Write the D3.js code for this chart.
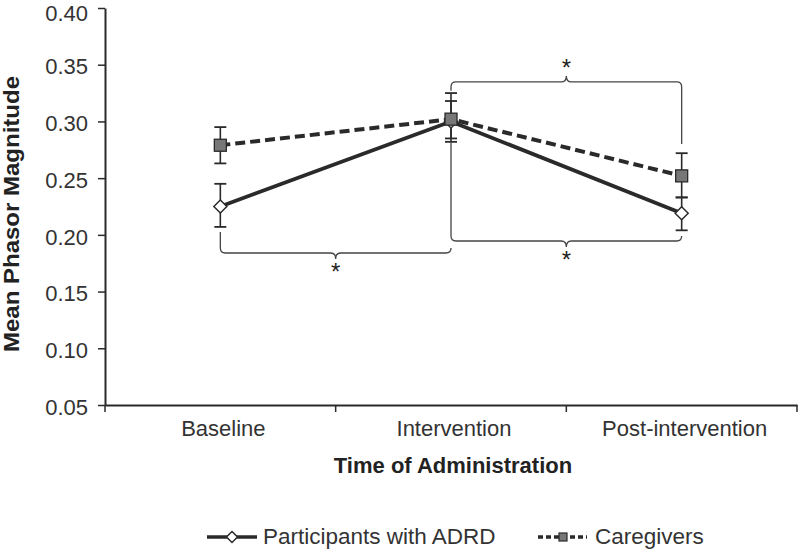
<!DOCTYPE html>
<html><head><meta charset="utf-8">
<script src="https://cdn.jsdelivr.net/npm/d3@7"></script>
<style>body{margin:0;background:#fff}svg{display:block}</style>
</head><body>
<svg id="c" width="800" height="551"></svg>
<script>
const categories = ["Baseline","Intervention","Post-intervention"];
const adrdMean = [0.225, 0.300, 0.219];
const adrdLow  = [0.207, 0.282, 0.204];
const adrdHigh = [0.245, 0.318, 0.233];
const cgMean = [0.279, 0.302, 0.252];
const cgLow  = [0.263, 0.285, 0.233];
const cgHigh = [0.295, 0.325, 0.272];
const yTicks = [0.05,0.10,0.15,0.20,0.25,0.30,0.35,0.40];
// significance braces: [from index, to index, level, side]
const braces = [
  {a:0,b:1,level:0.184,start:[0.2025,0.188],dir:1},
  {a:1,b:2,level:0.3348,start:[0.327,0.280],dir:-1},
  {a:1,b:2,level:0.1946,start:[0.2815,0.199],dir:1}
];

const svg = d3.select("#c");
const ink = "#2a2a2a";
const x = d3.scaleBand().domain(categories).range([105,797]).paddingInner(0).paddingOuter(0);
const y = d3.scaleLinear().domain([0.05,0.40]).range([405,8]);
const cx = c => x(c) + x.bandwidth()/2;
const font = "'Liberation Sans', Arial, sans-serif";

// y axis
const ya = svg.append("g").attr("transform","translate(105,0)")
  .call(d3.axisLeft(y).tickValues(yTicks).tickFormat(d3.format(".2f")).tickSize(7).tickSizeOuter(0));
ya.select(".domain").attr("stroke",ink).attr("stroke-width",2);
ya.selectAll(".tick line").attr("stroke",ink).attr("stroke-width",1.5);
ya.selectAll(".tick text").attr("font-family",font).attr("font-size",22).attr("fill","#333").attr("x",-17)
  .attr("dy",d=>d===0.40?"0.56em":"0.42em");

// x axis
const xa = svg.append("g").attr("transform","translate(0,405)")
  .call(d3.axisBottom(x).tickSize(0).tickSizeOuter(0));
xa.select(".domain").attr("stroke",ink).attr("stroke-width",2);
xa.selectAll(".tick text").attr("font-family",font).attr("font-size",22).attr("fill","#333").attr("dy","0").attr("y",31).attr("dx",3);
const edges = categories.map(c=>x(c)).concat([x(categories[2])+x.bandwidth()]);
svg.append("g").selectAll("line").data(edges).join("line")
  .attr("x1",d=>d).attr("x2",d=>d).attr("y1",405).attr("y2",412).attr("stroke",ink).attr("stroke-width",1.5);

// axis titles
svg.append("text").attr("x",453).attr("y",473).attr("text-anchor","middle")
  .attr("font-family",font).attr("font-weight","bold").attr("font-size",22).attr("fill","#222").text("Time of Administration");
svg.append("text").attr("transform","translate(19,214) rotate(-90)").attr("text-anchor","middle")
  .attr("font-family",font).attr("font-weight","bold").attr("font-size",22).attr("textLength",276).attr("lengthAdjust","spacingAndGlyphs")
  .attr("fill","#222").text("Mean Phasor Magnitude");

// braces
function bracePath(x1,x2,ys1,ys2,yl,dir){
  const r=5, xm=(x1+x2)/2, s=-dir;
  return `M${x1},${ys1} L${x1},${yl+s*r} Q${x1},${yl} ${x1+r},${yl} L${xm-r},${yl} Q${xm},${yl} ${xm},${yl-s*(r+1)} Q${xm},${yl} ${xm+r},${yl} L${x2-r},${yl} Q${x2},${yl} ${x2},${yl+s*r} L${x2},${ys2}`;
}
braces.forEach(b=>{
  const x1=cx(categories[b.a]), x2=cx(categories[b.b]);
  svg.append("path").attr("d",bracePath(x1,x2,y(b.start[0]),y(b.start[1]),y(b.level),b.dir))
    .attr("fill","none").attr("stroke","#444").attr("stroke-width",1.3);
  svg.append("text").attr("x",(x1+x2)/2).attr("y",y(b.level)+(b.dir>0?27:-6)).attr("text-anchor","middle")
    .attr("font-family",font).attr("font-size",24).attr("fill","#222").text("*");
});

// error bars
function errBars(low,high,g){
  categories.forEach((c,i)=>{
    const xx=cx(c);
    g.append("line").attr("x1",xx).attr("x2",xx).attr("y1",y(low[i])).attr("y2",y(high[i])).attr("stroke",ink).attr("stroke-width",1.6);
    [low[i],high[i]].forEach(v=>g.append("line").attr("x1",xx-6).attr("x2",xx+6).attr("y1",y(v)).attr("y2",y(v)).attr("stroke",ink).attr("stroke-width",1.8));
  });
}
const gE = svg.append("g");
errBars(cgLow,cgHigh,gE);
errBars(adrdLow,adrdHigh,gE);

const line = d3.line().x((d,i)=>cx(categories[i])).y(d=>y(d));
svg.append("path").datum(cgMean).attr("d",line).attr("fill","none").attr("stroke",ink).attr("stroke-width",4).attr("stroke-dasharray","10,5");
svg.append("path").datum(adrdMean).attr("d",line).attr("fill","none").attr("stroke",ink).attr("stroke-width",3.8);

const diamond = (xx,yy,s)=>`M${xx},${yy-s} L${xx+s},${yy} L${xx},${yy+s} L${xx-s},${yy} Z`;
svg.append("g").selectAll("path").data(adrdMean).join("path")
  .attr("d",(d,i)=>diamond(cx(categories[i]),y(d),6.5)).attr("fill","#fff").attr("stroke",ink).attr("stroke-width",1.5);
svg.append("g").selectAll("rect").data(cgMean).join("rect")
  .attr("x",(d,i)=>cx(categories[i])-6).attr("y",d=>y(d)-6).attr("width",12).attr("height",12)
  .attr("fill","#777").attr("stroke",ink).attr("stroke-width",1.3);

// legend
const lg = svg.append("g");
lg.append("line").attr("x1",207).attr("x2",257).attr("y1",537).attr("y2",537).attr("stroke",ink).attr("stroke-width",3.5);
lg.append("path").attr("d",diamond(232,537,5.5)).attr("fill","#fff").attr("stroke",ink).attr("stroke-width",1.5);
lg.append("text").attr("x",263).attr("y",544).attr("font-family",font).attr("font-size",22.5).attr("fill","#333").text("Participants with ADRD");
lg.append("line").attr("x1",538).attr("x2",587).attr("y1",537).attr("y2",537).attr("stroke",ink).attr("stroke-width",3.5).attr("stroke-dasharray","5,3");
lg.append("rect").attr("x",559).attr("y",533).attr("width",8).attr("height",8).attr("fill","#777").attr("stroke",ink).attr("stroke-width",1.2);
lg.append("text").attr("x",595).attr("y",544).attr("font-family",font).attr("font-size",22.5).attr("fill","#333").text("Caregivers");
</script>
</body></html>
